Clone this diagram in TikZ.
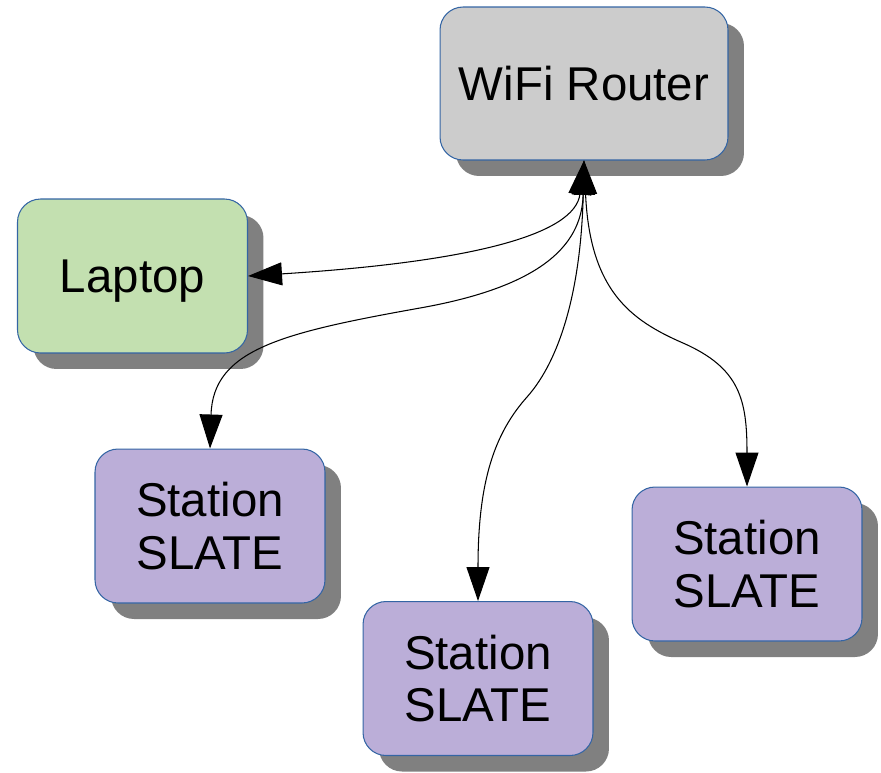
\documentclass[tikz,border=0pt]{standalone}
\usepackage{fontspec}
\setmainfont{Liberation Sans}
\usetikzlibrary{arrows.meta,shadows}
\definecolor{routergray}{HTML}{CCCCCC}
\definecolor{laptopgreen}{HTML}{C3E0B0}
\definecolor{slatepurple}{HTML}{BBAED8}
\definecolor{edgeblue}{HTML}{3465A4}
\tikzset{
  box/.style={draw=edgeblue, line width=0.6pt, rounded corners=0.46cm,
    inner sep=0pt, align=center, font=\fontsize{27}{30}\selectfont,
    minimum width=4.6cm, minimum height=3.08cm,
    drop shadow={shadow xshift=0.32cm, shadow yshift=-0.32cm, opacity=1, fill=black!50}},
  link/.style={line width=0.6pt,
    {Triangle[length=0.68cm,width=0.46cm]}-{Triangle[length=0.68cm,width=0.46cm]}}
}

\begin{document}
\begin{tikzpicture}[x=0.02cm,y=-0.02cm]
\useasboundingbox (0,0) rectangle (881,772);
\node[box, fill=routergray, minimum width=5.76cm, minimum height=3.06cm] (router) at (584,83.5) {WiFi Router};
\node[box, fill=laptopgreen, text depth=0pt] (laptop) at (132.5,276) {Laptop};
\node[box, fill=slatepurple] (slateA) at (210,526) {Station\\SLATE};
\node[box, fill=slatepurple] (slateB) at (478,678.5) {Station\\SLATE};
\node[box, fill=slatepurple] (slateC) at (747,564) {Station\\SLATE};

\draw[link] (router.south) .. controls (575,235) and (470,262) .. (laptop.east);
\draw[link] (router.south) .. controls (582,240) and (550,285) .. (420,308)
  .. controls (280,333) and (213,350) .. (slateA.north);
\draw[link] (router.south) .. controls (581,290) and (560,360) .. (527,397)
  .. controls (495,433) and (478,480) .. (slateB.north);
\draw[link] (router.south) .. controls (590,290) and (630,320) .. (683,343)
  .. controls (740,368) and (747,400) .. (slateC.north);
\end{tikzpicture}
\end{document}
